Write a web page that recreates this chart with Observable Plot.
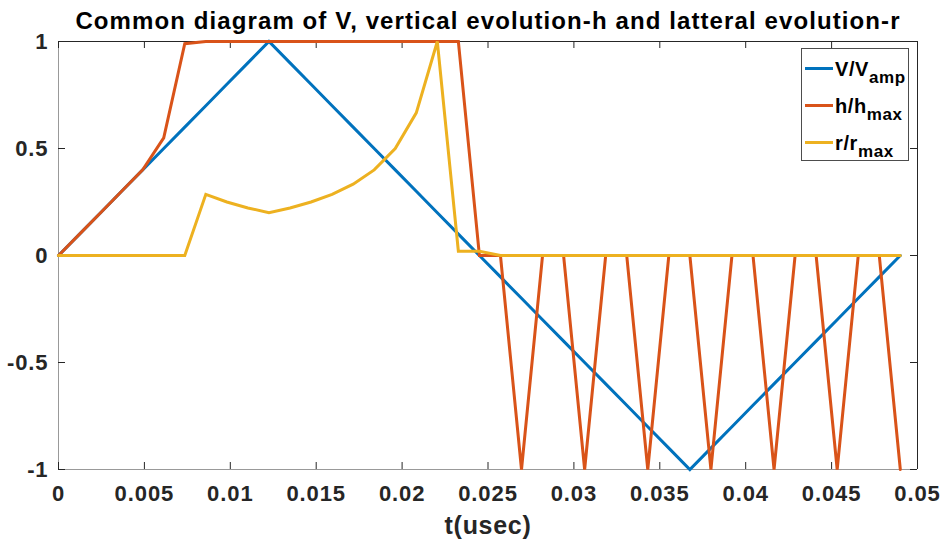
<!DOCTYPE html>
<html>
<head>
<meta charset="utf-8">
<script src="https://cdn.jsdelivr.net/npm/d3@7"></script>
<script src="https://cdn.jsdelivr.net/npm/@observablehq/plot@0.6"></script>
<style>
  html, body { margin: 0; padding: 0; background: #fff; }
  #wrap { position: relative; width: 943px; height: 540px; font-family: "Liberation Sans", Arial, Helvetica, sans-serif; }
  #legend { position: absolute; left: 801px; top: 48px; width: 108px; height: 113px; border: 1px solid #4d4d4d; background: #fff; box-sizing: border-box; }
  .row { position: absolute; left: 0; height: 30px; width: 100%; }
  .sw { position: absolute; left: 3px; width: 28px; height: 3px; }
  .lab { position: absolute; left: 33px; font-weight: bold; font-size: 20px; color: #000; white-space: nowrap; line-height: 1; letter-spacing: 0.6px; }
  .lab sub { font-size: 17px; vertical-align: -7px; }
</style>
</head>
<body>
<div id="wrap"></div>
<script>
// time samples (usec)
const t = [0, 0.001225, 0.00245, 0.003675, 0.0049, 0.006125, 0.00735, 0.008575, 0.0098, 0.011025,
  0.01225, 0.013475, 0.0147, 0.015925, 0.01715, 0.018375, 0.0196, 0.020825, 0.02205, 0.023275,
  0.0245, 0.025725, 0.02695, 0.028175, 0.0294, 0.030625, 0.03185, 0.033075, 0.0343, 0.035525,
  0.03675, 0.037975, 0.0392, 0.040425, 0.04165, 0.042875, 0.0441, 0.045325, 0.04655, 0.047775, 0.049];
// V / V_amp
const vNorm = [0, 0.1, 0.2, 0.3, 0.4, 0.5, 0.6, 0.7, 0.8, 0.9,
  1, 0.9, 0.8, 0.7, 0.6, 0.5, 0.4, 0.3, 0.2, 0.1,
  0, -0.1, -0.2, -0.3, -0.4, -0.5, -0.6, -0.7, -0.8, -0.9,
  -1, -0.9, -0.8, -0.7, -0.6, -0.5, -0.4, -0.3, -0.2, -0.1, 0];
// h / h_max
const hNorm = [0, 0.1, 0.2, 0.3, 0.4, 0.55, 0.99, 1, 1, 1,
  1, 1, 1, 1, 1, 1, 1, 1, 1, 1,
  0, 0, -1, 0, 0, -1, 0, 0, -1, 0,
  0, -1, 0, 0, -1, 0, 0, -1, 0, 0, -1];
// r / r_max
const rNorm = [0, 0, 0, 0, 0, 0, 0, 0.2857, 0.25, 0.2222,
  0.2, 0.2222, 0.25, 0.2857, 0.3333, 0.4, 0.5, 0.6667, 1, 0.02,
  0.02, 0, 0, 0, 0, 0, 0, 0, 0, 0,
  0, 0, 0, 0, 0, 0, 0, 0, 0, 0, 0];

const seriesNames = ["V/V_amp", "h/h_max", "r/r_max"];
const seriesColors = ["#0072BD", "#D95319", "#EDB120"];
const xTicks = [0, 0.005, 0.01, 0.015, 0.02, 0.025, 0.03, 0.035, 0.04, 0.045, 0.05];
const xTickLabels = ["0", "0.005", "0.01", "0.015", "0.02", "0.025", "0.03", "0.035", "0.04", "0.045", "0.05"];
const yTicks = [-1, -0.5, 0, 0.5, 1];
const yTickLabels = ["-1", "-0.5", "0", "0.5", "1"];
const titleText = "Common diagram of V, vertical evolution-h and latteral evolution-r";
const xLabel = "t(usec)";

const seriesValues = [vNorm, hNorm, rNorm];
const rows = [];
seriesValues.forEach((vals, s) => vals.forEach((v, i) => rows.push({t: t[i], v, s: seriesNames[s]})));

const font = '"Liberation Sans", Arial, Helvetica, sans-serif';
const W = 943, H = 540, mL = 58, mR = 26, mT = 41, mB = 71;
const innerH = H - mT - mB, innerW = W - mL - mR;
const tickLen = 7;

const chart = Plot.plot({
  width: W, height: H,
  marginLeft: mL, marginRight: mR, marginTop: mT, marginBottom: mB,
  style: {fontFamily: font, background: "#fff", overflow: "visible"},
  x: {domain: [0, 0.05], axis: null},
  y: {domain: [-1, 1], axis: null},
  color: {domain: seriesNames, range: seriesColors},
  marks: [
    // axis box
    Plot.ruleX([0], {stroke: "#999", strokeWidth: 1}),
    Plot.ruleY([-1], {stroke: "#999", strokeWidth: 1}),
    Plot.ruleX([0.05], {stroke: "#262626", strokeWidth: 1}),
    Plot.ruleY([1], {stroke: "#262626", strokeWidth: 1}),
    // inward ticks
    Plot.ruleX(xTicks, {x: d => d, insetTop: innerH - tickLen, stroke: "#262626"}),
    Plot.ruleX(xTicks, {x: d => d, insetBottom: innerH - tickLen, stroke: "#262626"}),
    Plot.ruleY(yTicks, {y: d => d, insetRight: innerW - tickLen, stroke: "#262626"}),
    Plot.ruleY(yTicks, {y: d => d, insetLeft: innerW - tickLen, stroke: "#262626"}),
    // data
    Plot.line(rows, {x: "t", y: "v", z: "s", stroke: "s", strokeWidth: 3, strokeLinejoin: "miter", strokeMiterlimit: 3}),
    // tick labels
    Plot.text(xTicks, {x: d => d, text: (d, i) => xTickLabels[i], frameAnchor: "bottom", lineAnchor: "middle", dy: 24,
      fontSize: 22, fontWeight: "bold", fill: "#262626"}),
    Plot.text(yTicks, {y: d => d, text: (d, i) => yTickLabels[i], frameAnchor: "left", lineAnchor: "middle", dx: -10, textAnchor: "end",
      fontSize: 22, fontWeight: "bold", fill: "#262626"}),
    // axis label & title
    Plot.text([xLabel], {text: d => d, frameAnchor: "bottom", lineAnchor: "middle", dy: 56, fontSize: 25, fontWeight: "bold", fill: "#262626"}),
    Plot.text([titleText], {text: d => d, frameAnchor: "top", lineAnchor: "middle", dy: -20, fontSize: 24, fontWeight: "bold", fill: "#000"})
  ]
});

// widen glyph spacing to match the reference's wider bold face
d3.select(chart).selectAll("text").each(function() {
  const s = this.textContent;
  let ls = 0.9;
  if (s === titleText) ls = 1.1;
  else if (s === xLabel) ls = 0.7;
  d3.select(this).style("letter-spacing", ls + "px");
});

const wrap = document.getElementById("wrap");
wrap.appendChild(chart);

// legend
const legend = document.createElement("div");
legend.id = "legend";
const tops = [7, 44, 81];
seriesNames.forEach((name, i) => {
  const [main, sub] = name.split("_");
  const row = document.createElement("div");
  row.className = "row";
  row.style.top = tops[i] + "px";
  const sw = document.createElement("div");
  sw.className = "sw";
  sw.style.background = seriesColors[i];
  sw.style.top = "11px";
  const lab = document.createElement("div");
  lab.className = "lab";
  lab.style.top = "3px";
  lab.innerHTML = main + "<sub>" + sub + "</sub>";
  row.appendChild(sw);
  row.appendChild(lab);
  legend.appendChild(row);
});
wrap.appendChild(legend);
</script>
</body>
</html>
